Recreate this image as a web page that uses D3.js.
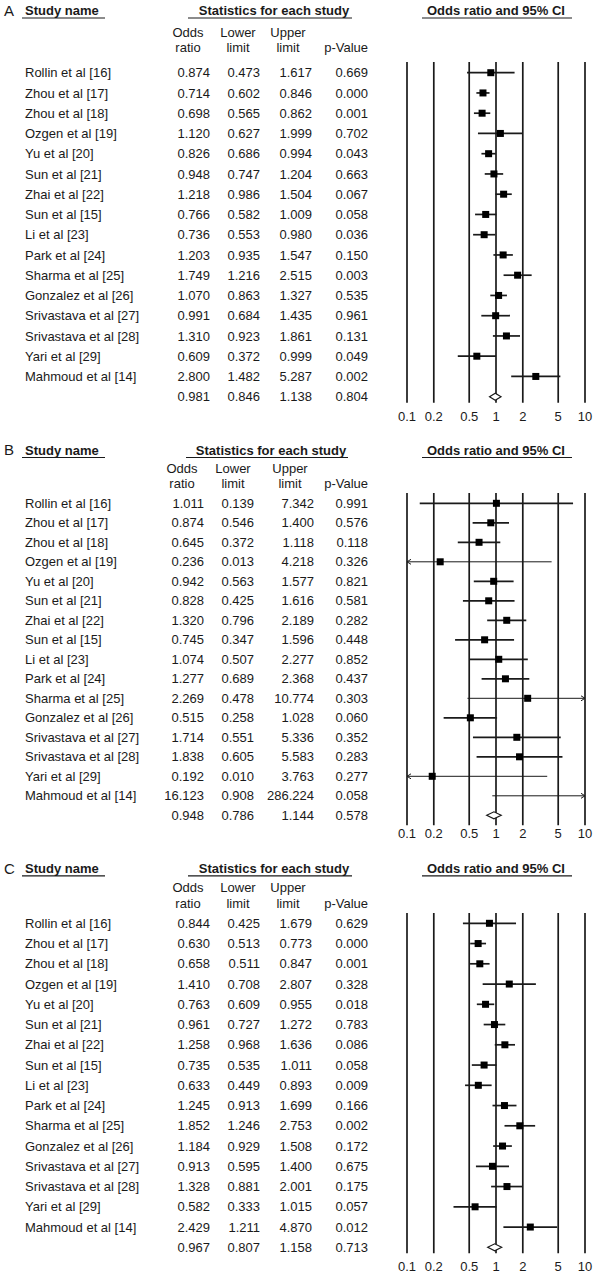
<!DOCTYPE html>
<html>
<head>
<meta charset="utf-8">
<script src="https://cdn.jsdelivr.net/npm/d3@7"></script>
<style>
  body { margin: 0; background: #fff; }
  svg { display: block; font-family: "Liberation Sans", Arial, sans-serif; }
</style>
</head>
<body>
<div id="chart"></div>
<script>
// Forest plots, three panels (A, B, C)

const studies = ["Rollin et al [16]", "Zhou et al [17]", "Zhou et al [18]", "Ozgen et al [19]",
  "Yu et al [20]", "Sun et al [21]", "Zhai et al [22]", "Sun et al [15]", "Li et al [23]",
  "Park et al [24]", "Sharma et al [25]", "Gonzalez et al [26]", "Srivastava et al [27]",
  "Srivastava et al [28]", "Yari et al [29]", "Mahmoud et al [14]"];

const oddsA  = [0.874, 0.714, 0.698, 1.120, 0.826, 0.948, 1.218, 0.766, 0.736, 1.203, 1.749, 1.070, 0.991, 1.310, 0.609, 2.800];
const lowerA = [0.473, 0.602, 0.565, 0.627, 0.686, 0.747, 0.986, 0.582, 0.553, 0.935, 1.216, 0.863, 0.684, 0.923, 0.372, 1.482];
const upperA = [1.617, 0.846, 0.862, 1.999, 0.994, 1.204, 1.504, 1.009, 0.980, 1.547, 2.515, 1.327, 1.435, 1.861, 0.999, 5.287];
const pA     = [0.669, 0.000, 0.001, 0.702, 0.043, 0.663, 0.067, 0.058, 0.036, 0.150, 0.003, 0.535, 0.961, 0.131, 0.049, 0.002];
const summaryA = [0.981, 0.846, 1.138, 0.804];

const oddsB  = [1.011, 0.874, 0.645, 0.236, 0.942, 0.828, 1.320, 0.745, 1.074, 1.277, 2.269, 0.515, 1.714, 1.838, 0.192, 16.123];
const lowerB = [0.139, 0.546, 0.372, 0.013, 0.563, 0.425, 0.796, 0.347, 0.507, 0.689, 0.478, 0.258, 0.551, 0.605, 0.010, 0.908];
const upperB = [7.342, 1.400, 1.118, 4.218, 1.577, 1.616, 2.189, 1.596, 2.277, 2.368, 10.774, 1.028, 5.336, 5.583, 3.763, 286.224];
const pB     = [0.991, 0.576, 0.118, 0.326, 0.821, 0.581, 0.282, 0.448, 0.852, 0.437, 0.303, 0.060, 0.352, 0.283, 0.277, 0.058];
const summaryB = [0.948, 0.786, 1.144, 0.578];

const oddsC  = [0.844, 0.630, 0.658, 1.410, 0.763, 0.961, 1.258, 0.735, 0.633, 1.245, 1.852, 1.184, 0.913, 1.328, 0.582, 2.429];
const lowerC = [0.425, 0.513, 0.511, 0.708, 0.609, 0.727, 0.968, 0.535, 0.449, 0.913, 1.246, 0.929, 0.595, 0.881, 0.333, 1.211];
const upperC = [1.679, 0.773, 0.847, 2.807, 0.955, 1.272, 1.636, 1.011, 0.893, 1.699, 2.753, 1.508, 1.400, 2.001, 1.015, 4.870];
const pC     = [0.629, 0.000, 0.001, 0.328, 0.018, 0.783, 0.086, 0.058, 0.009, 0.166, 0.002, 0.172, 0.675, 0.175, 0.057, 0.012];
const summaryC = [0.967, 0.807, 1.158, 0.713];

const ticks = [0.1, 0.2, 0.5, 1, 2, 5, 10];
const tickLabels = ["0.1", "0.2", "0.5", "1", "2", "5", "10"];

// layout for each panel (pixel positions)
const panels = [
  {label: "A", odds: oddsA, lower: lowerA, upper: upperA, p: pA, summary: summaryA,
   header: 10.5, sub1: 32.7, sub2: 47.7, row0: 72.7, gap: 20.25,
   cols: [210, 260, 312, 368], subX: [188, 238, 288], statsLine: [188, 352],
   lineTop: 62, lineBottomPad: 6, labelPad: 20},
  {label: "B", odds: oddsB, lower: lowerB, upper: upperB, p: pB, summary: summaryB,
   header: 450, sub1: 468, sub2: 483.5, row0: 503.3, gap: 19.5,
   cols: [204, 254, 314, 368], subX: [182, 233, 290], statsLine: [186, 348],
   lineTop: 493, lineBottomPad: 10, labelPad: 18.5},
  {label: "C", odds: oddsC, lower: lowerC, upper: upperC, p: pC, summary: summaryC,
   header: 868.3, sub1: 887, sub2: 903, row0: 923.3, gap: 20.25,
   cols: [210, 260, 312, 368], subX: [188, 238, 288], statsLine: [188, 352],
   lineTop: 913, lineBottomPad: 6, labelPad: 19.5}
];

const W = 600, H = 1277;
const ink = "#1a1a1a";
const fmt = d3.format(".3f");

const svg = d3.select("#chart").append("svg")
  .attr("width", W).attr("height", H);

const x = d3.scaleLog().domain([0.1, 10]).range([407, 585]);

panels.forEach(function(pan) {
  const g = svg.append("g");
  const yRow = i => pan.row0 + i * pan.gap;
  const ySum = yRow(studies.length);

  function txt(xp, yp, s, anchor, opts) {
    const t = g.append("text")
      .attr("x", xp).attr("y", yp).attr("dy", "0.35em")
      .attr("text-anchor", anchor || "start")
      .attr("font-size", (opts && opts.size) || 13)
      .attr("fill", ink)
      .text(s);
    if (opts && opts.bold) t.attr("font-weight", "bold");
    return t;
  }

  // panel letter + headers
  txt(4, pan.header, pan.label, "start", {size: 15});
  txt(25, pan.header, "Study name", "start", {bold: true});
  txt((pan.statsLine[0] + pan.statsLine[1]) / 2 + 4, pan.header, "Statistics for each study", "middle", {bold: true});
  txt(x(1), pan.header, "Odds ratio and 95% CI", "middle", {bold: true});

  const ul = pan.header + 7.5;
  [[22, 105], pan.statsLine, [422, 572]].forEach(function(s) {
    g.append("line").attr("x1", s[0]).attr("x2", s[1]).attr("y1", ul).attr("y2", ul)
      .attr("stroke", ink).attr("stroke-width", 1.2);
  });

  txt(pan.subX[0], pan.sub1, "Odds", "middle");
  txt(pan.subX[0], pan.sub2, "ratio", "middle");
  txt(pan.subX[1], pan.sub1, "Lower", "middle");
  txt(pan.subX[1], pan.sub2, "limit", "middle");
  txt(pan.subX[2], pan.sub1, "Upper", "middle");
  txt(pan.subX[2], pan.sub2, "limit", "middle");
  txt(pan.cols[3], pan.sub2, "p-Value", "end");

  // table rows
  studies.forEach(function(name, i) {
    const y = yRow(i);
    txt(25, y, name);
    txt(pan.cols[0], y, fmt(pan.odds[i]), "end");
    txt(pan.cols[1], y, fmt(pan.lower[i]), "end");
    txt(pan.cols[2], y, fmt(pan.upper[i]), "end");
    txt(pan.cols[3], y, fmt(pan.p[i]), "end");
  });
  txt(pan.cols[0], ySum, fmt(pan.summary[0]), "end");
  txt(pan.cols[1], ySum, fmt(pan.summary[1]), "end");
  txt(pan.cols[2], ySum, fmt(pan.summary[2]), "end");
  txt(pan.cols[3], ySum, fmt(pan.summary[3]), "end");

  // vertical reference lines
  const lineBottom = ySum + pan.lineBottomPad;
  g.selectAll(".vline").data(ticks).enter().append("line")
    .attr("x1", d => x(d)).attr("x2", d => x(d))
    .attr("y1", pan.lineTop).attr("y2", lineBottom)
    .attr("stroke", ink).attr("stroke-width", 1.7);

  g.selectAll(".tlab").data(ticks).enter().append("text")
    .attr("x", d => x(d)).attr("y", ySum + pan.labelPad).attr("dy", "0.35em")
    .attr("text-anchor", "middle").attr("font-size", 13).attr("fill", ink)
    .text((d, i) => tickLabels[i]);

  // CI lines, squares
  studies.forEach(function(name, i) {
    const y = yRow(i);
    const lo = pan.lower[i], hi = pan.upper[i], or = pan.odds[i];
    const clipL = lo < 0.1, clipR = hi > 10;
    const x1 = x(Math.max(lo, 0.1)), x2 = x(Math.min(hi, 10));
    const sw = (clipL || clipR) ? 1 : 1.7;
    g.append("line").attr("x1", x1).attr("x2", x2).attr("y1", y).attr("y2", y)
      .attr("stroke", ink).attr("stroke-width", sw);
    if (clipL) {
      g.append("path").attr("d", `M${x1 + 4},${y - 2.5}L${x1},${y}L${x1 + 4},${y + 2.5}`)
        .attr("fill", "none").attr("stroke", ink).attr("stroke-width", 1);
    }
    if (clipR) {
      g.append("path").attr("d", `M${x2 - 4},${y - 2.5}L${x2},${y}L${x2 - 4},${y + 2.5}`)
        .attr("fill", "none").attr("stroke", ink).attr("stroke-width", 1);
    }
    if (or >= 0.1 && or <= 10) {
      g.append("rect").attr("x", x(or) - 3.5).attr("y", y - 3.5)
        .attr("width", 7).attr("height", 7).attr("fill", "#000");
    }
  });

  // summary diamond
  const s = pan.summary;
  g.append("path")
    .attr("d", `M${x(s[1])},${ySum}L${x(s[0])},${ySum - 3.5}L${x(s[2])},${ySum}L${x(s[0])},${ySum + 3.5}Z`)
    .attr("fill", "#fff").attr("stroke", ink).attr("stroke-width", 1.2);
});
</script>
</body>
</html>
